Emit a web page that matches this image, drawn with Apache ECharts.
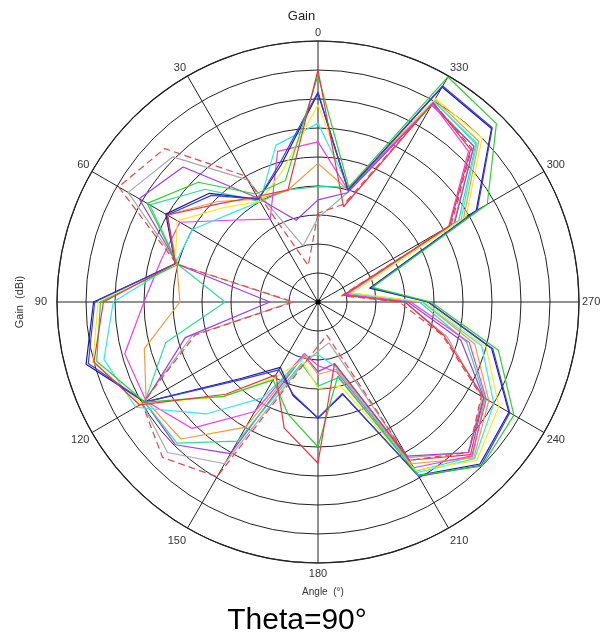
<!DOCTYPE html>
<html><head><meta charset="utf-8">
<script src="https://cdn.jsdelivr.net/npm/echarts@6/dist/echarts.min.js"></script>
<style>html,body{margin:0;padding:0;background:#fff}#c{width:603px;height:637px}</style>
</head><body><div id="c"></div>
<script>
// angles in degrees (0..345, step 15)
const angles = [0,15,30,45,60,75,90,105,120,135,150,165,180,195,210,225,240,255,270,285,300,315,330,345];
const angleTicks = [0,30,60,90,120,150,180,210,240,270,300,330];
// gain values (dBi), one per angle
const red      = [0,-20,-19,-16,-10,-14.5,-3,0,-4.5,-17.5,-25.5,-17.5,-12.2,-29,-8.5,-2.8,-7,-17.5,-25,-35.5,-13.8,-2.8,-0.3,-23];
const green    = [-0.9,-18.3,-18.5,-10.8,-6,-15,-2.5,-0.5,-5.5,-17,-24.5,-20,-15,-26.8,-5.5,0,-1,-7.8,-20.5,-30.3,-6.3,3.5,4.8,-19.5];
const blue     = [-3.8,-15,-19.5,-14,-10,-14.5,-1.5,1,-5.5,-21,-26.5,-23.5,-20,-23.7,-5.3,-0.2,-1.8,-8.8,-21,-30.5,-8.3,2.5,3,-20];
const navy     = [-4,-15.5,-19.5,-13.5,-9.7,-14.5,-1.3,1.4,-5.5,-21.4,-27,-23.3,-20,-23.5,-5.5,-0.5,-2,-9,-21,-30.8,-8.5,2.3,2.8,-20];
const yellow   = [-6,-16.5,-20,-17,-12,-14.5,-2.1,0.2,-5,-16.9,-24.8,-29.5,-25.1,-25,-6.5,-1.3,-4,-10,-21.5,-34,-10.5,0,0.5,-19.5];
const cyan     = [-9.2,-12,-20,-18.5,-15,-14.5,-4.7,-1.8,-3.7,-12.7,-20.9,-30,-30.9,-28.5,-6,-1.8,-5,-10.8,-22,-34.3,-11.5,-1.3,0,-19.5];
const magenta  = [-12.4,-13.1,-23.5,-20,-12.5,-12,-10,-5.5,-5.8,-9.2,-18.2,-30.8,-29,-27.5,-7,-2.5,-6.5,-13,-24,-35,-14,-3.3,-0.5,-20];
const orange   = [-16.1,-20,-19.5,-15.5,-10,-14.8,-16.2,-9,-5.8,-6.6,-15.1,-30.5,-27.5,-28,-7.8,-2,-6,-12,-22,-34.5,-11,-0.8,0.3,-20];
const mint     = [-20.1,-20,-20,-12.5,-6.5,-15,-24,-12.8,-5.5,-5.6,-12.3,-29,-25.5,-26.5,-6.3,-2.3,-6.8,-13.5,-22.5,-34,-12,-1.5,0,-19.5];
const violet   = [-22.4,-25.4,-19.3,-7.1,-4.4,-15,-31.7,-16.3,-5.5,-5.2,-9.8,-30.5,-28,-29,-9.3,-3.3,-7,-14.5,-24.5,-35,-12.8,-2,-0.8,-20.5];
const gray     = [-25.5,-30,-15.7,-4.6,-2.2,-15,-35.5,-17.5,-5,-3.3,-7.8,-28.5,-31.5,-32.7,-9,-3.3,-7.3,-17,-25,-35.3,-13,-2,-0.5,-20.5];
const redDash  = [-24.7,-33.5,-14.9,-2.6,-0.3,-14.8,-35.8,-18.1,-5,-2.1,-5.2,-28,-32.4,-34.1,-8.5,-3.3,-7.5,-17.8,-26,-35.8,-13.5,-2.5,-0.3,-22.5];

const seriesDefs = [
  {name:'S11', vals: gray,    color:'#a8a8a8'},
  {name:'S10', vals: violet,  color:'#9a3cf0'},
  {name:'S9',  vals: mint,    color:'#2fdc9c'},
  {name:'S8',  vals: orange,  color:'#f39a3c'},
  {name:'S7',  vals: magenta, color:'#f03cf0'},
  {name:'S6',  vals: cyan,    color:'#30e8f0'},
  {name:'S5',  vals: yellow,  color:'#f8ec20'},
  {name:'S4',  vals: navy,    color:'#1c1c90'},
  {name:'S3',  vals: blue,    color:'#3a3af4'},
  {name:'S2',  vals: green,   color:'#2ed02e'},
  {name:'S1',  vals: red,     color:'#ec3440'},
  {name:'S12', vals: redDash, color:'#e04848', dash:true}
];

const chart = echarts.init(document.getElementById('c'), null, {renderer:'canvas'});
const series = seriesDefs.map(d => {
  const data = d.vals.map((v,i) => [v, angles[i]]);
  data.push([d.vals[0], 360]);
  return {
    type:'line', coordinateSystem:'polar', name:d.name, data,
    symbol:'none', smooth:false, silent:true, animation:false,
    lineStyle:{color:d.color, width:1.2, type: d.dash ? [7,4] : 'solid'}
  };
});

const labelRich = {
  n:{color:'#333', fontSize:11, fontFamily:'Liberation Sans, Arial'},
  l:{color:'#333', fontSize:11, fontFamily:'Liberation Sans, Arial', padding:[0,7,0,0]},
  d:{color:'#333', fontSize:11, fontFamily:'Liberation Sans, Arial', padding:[5,0,0,0]},
  b:{color:'#333', fontSize:11, fontFamily:'Liberation Sans, Arial', padding:[2,0,0,0]}
};

chart.setOption({
  animation:false,
  backgroundColor:'#ffffff',
  polar:{center:[318,302], radius:261},
  angleAxis:{
    type:'value', min:0, max:360, interval:30, startAngle:90, clockwise:false,
    axisLine:{show:true, lineStyle:{color:'#222', width:1.2}},
    axisTick:{show:false},
    splitLine:{show:true, lineStyle:{color:'#222', width:1}},
    axisLabel:{show:true, color:'#333', fontSize:11, fontFamily:'Liberation Sans, Arial', margin:3, rich:labelRich,
      formatter: v => {
        if (v === 360) return '';
        if (v === 90) return '{l|90}';
        if (v === 150 || v === 210) return '{d|' + v + '}';
        if (v === 180) return '{b|180}';
        return '{n|' + v + '}';
      }}
  },
  radiusAxis:{
    type:'value', min:-40, max:5, interval:5,
    axisLine:{show:false}, axisTick:{show:false}, axisLabel:{show:false},
    splitLine:{show:true, lineStyle:{color:'#222', width:1}}
  },
  title:[
    {text:'Gain', left:'center', top:5, textStyle:{fontSize:13, fontWeight:'normal', color:'#222', fontFamily:'Liberation Sans, Arial'}},
    {text:'Angle  (°)', left:318, textAlign:'center', top:582, textStyle:{fontSize:10, fontWeight:'normal', color:'#333', fontFamily:'Liberation Sans, Arial'}},
    {text:'Theta=90°', left:292, textAlign:'center', top:601, textStyle:{fontSize:30, fontWeight:'normal', color:'#000', fontFamily:'Liberation Sans, Arial'}}
  ],
  graphic:[
    {type:'circle', shape:{cx:318, cy:302, r:2.5}, style:{fill:'#000'}, z:100},
    {type:'text', x:20, y:302, rotation:Math.PI/2, style:{text:'Gain  (dBi)', fontSize:11, fill:'#333', fontFamily:'Liberation Sans, Arial', align:'center', verticalAlign:'middle'}}
  ],
  series
});
</script></body></html>
